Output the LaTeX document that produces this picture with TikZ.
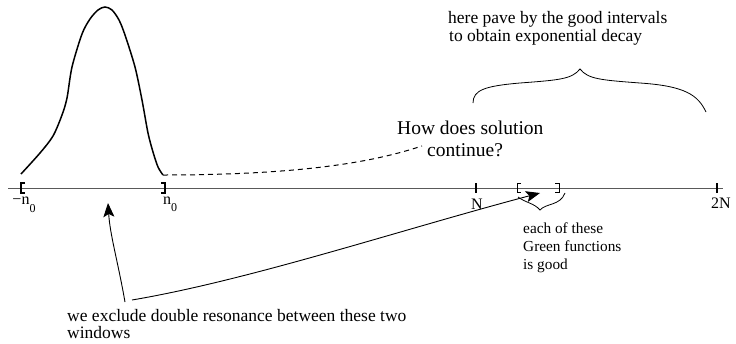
\documentclass[tikz,border=0pt]{standalone}
\usepackage{fontspec}
\setmainfont{Liberation Serif}
\usetikzlibrary{arrows.meta}
\begin{document}
\begin{tikzpicture}[x=1pt,y=-1pt,
  txt/.style={inner sep=0pt, anchor=base west, font=\fontsize{17.5pt}{18pt}\selectfont},
  bigtxt/.style={inner sep=0pt, anchor=base west, font=\fontsize{19.5pt}{20pt}\selectfont},
  smalltxt/.style={inner sep=0pt, anchor=base west, font=\fontsize{15.3pt}{16pt}\selectfont},
  axlbl/.style={inner sep=0pt, anchor=base, font=\fontsize{16pt}{16pt}\selectfont},
  axisline/.style={draw=black!65, line width=0.9pt},
  brk/.style={draw=black, line width=1.3pt},
  sbrk/.style={draw=black, line width=0.8pt},
  tick/.style={draw=black, line width=1.3pt},
  curve/.style={draw=black, line width=1.5pt},
  brace/.style={draw=black, line width=0.8pt},
  arr/.style={draw=black, line width=0.9pt, -{Stealth[length=14pt,width=11pt,inset=3pt]}}]
\useasboundingbox (0,0) rectangle (736,343);

% axis
\coordinate (axL) at (8,188);
\coordinate (axR) at (723,188);
\path[axisline] (axL) -- (axR);

% brackets -n0 and n0
\path[brk] (25,183) -- (21,183) -- (21,193) -- (25,193);
\path[brk] (161,183) -- (165,183) -- (165,193) -- (161,193);
% ticks N, 2N
\path[tick] (476,183) -- (476,193);
\path[tick] (717,183) -- (717,193);
% small window brackets
\path[sbrk] (521,183) -- (517,183) -- (517,192) -- (521,192);
\path[sbrk] (555,183) -- (559,183) -- (559,192) -- (555,192);

% axis labels
\node[axlbl] (lmn) at (24,204) {−n\raisebox{-8pt}{\fontsize{12pt}{12pt}\selectfont 0}};
\node[axlbl] (ln) at (170,204) {n\raisebox{-7pt}{\fontsize{12pt}{12pt}\selectfont 0}};
\node[axlbl] (lN) at (477,209) {N};
\node[axlbl] (l2N) at (721,208) {2N};

% bump
\path[curve] plot[smooth, tension=0.5] coordinates {(21,174) (40,153) (53,136) (62,115) (67,98) (72,67) (82,34) (90,19) (98,10) (105,7) (112,10) (119,20) (125,35) (135,67) (142,100) (148,133) (153,152) (158,167) (163,175)};

% dashed continuation
\coordinate (dS) at (163,175);
\coordinate (dE) at (422,146);
\path[draw=black, line width=1pt, dash pattern=on 5pt off 4pt] (dS) .. controls (320,175) and (385,158) .. (dE);

% texts
\node[bigtxt] (how) at (397,134) {How does solution};
\node[bigtxt] (cont) at (427,156) {continue?};
\node[txt] (pave1) at (448,23) {here pave by the good intervals};
\node[txt] (pave2) at (449,41) {to obtain exponential decay};
\node[smalltxt] (g1) at (523,233) {each of these};
\node[smalltxt] (g2) at (523,251) {Green functions};
\node[smalltxt] (g3) at (523,269) {is good};
\node[txt] (ex1) at (67,321) {we exclude double resonance between these two};
\node[txt] (ex2) at (67,338) {windows};

% big brace
\path[brace] (473,103) .. controls (473,90) and (485,86) .. (520,83)
  .. controls (560,80) and (572,79) .. (580,69)
  .. controls (588,79) and (600,80) .. (640,83)
  .. controls (685,86) and (698,95) .. (706,112);

% small brace
\path[brace] (518,197) .. controls (526,203) and (534,203) .. (540,210)
  .. controls (546,203) and (560,206) .. (565,193);

% arrows
\coordinate (a1s) at (125,302);
\coordinate (a1e) at (108,203);
\coordinate (a2s) at (132,300);
\coordinate (a2e) at (540,193);
\path[arr] (a1s) .. controls (118,262) and (110,235) .. (a1e);
\path[arr] (a2s) .. controls (250,280) and (400,230) .. (a2e);
\end{tikzpicture}
\end{document}
